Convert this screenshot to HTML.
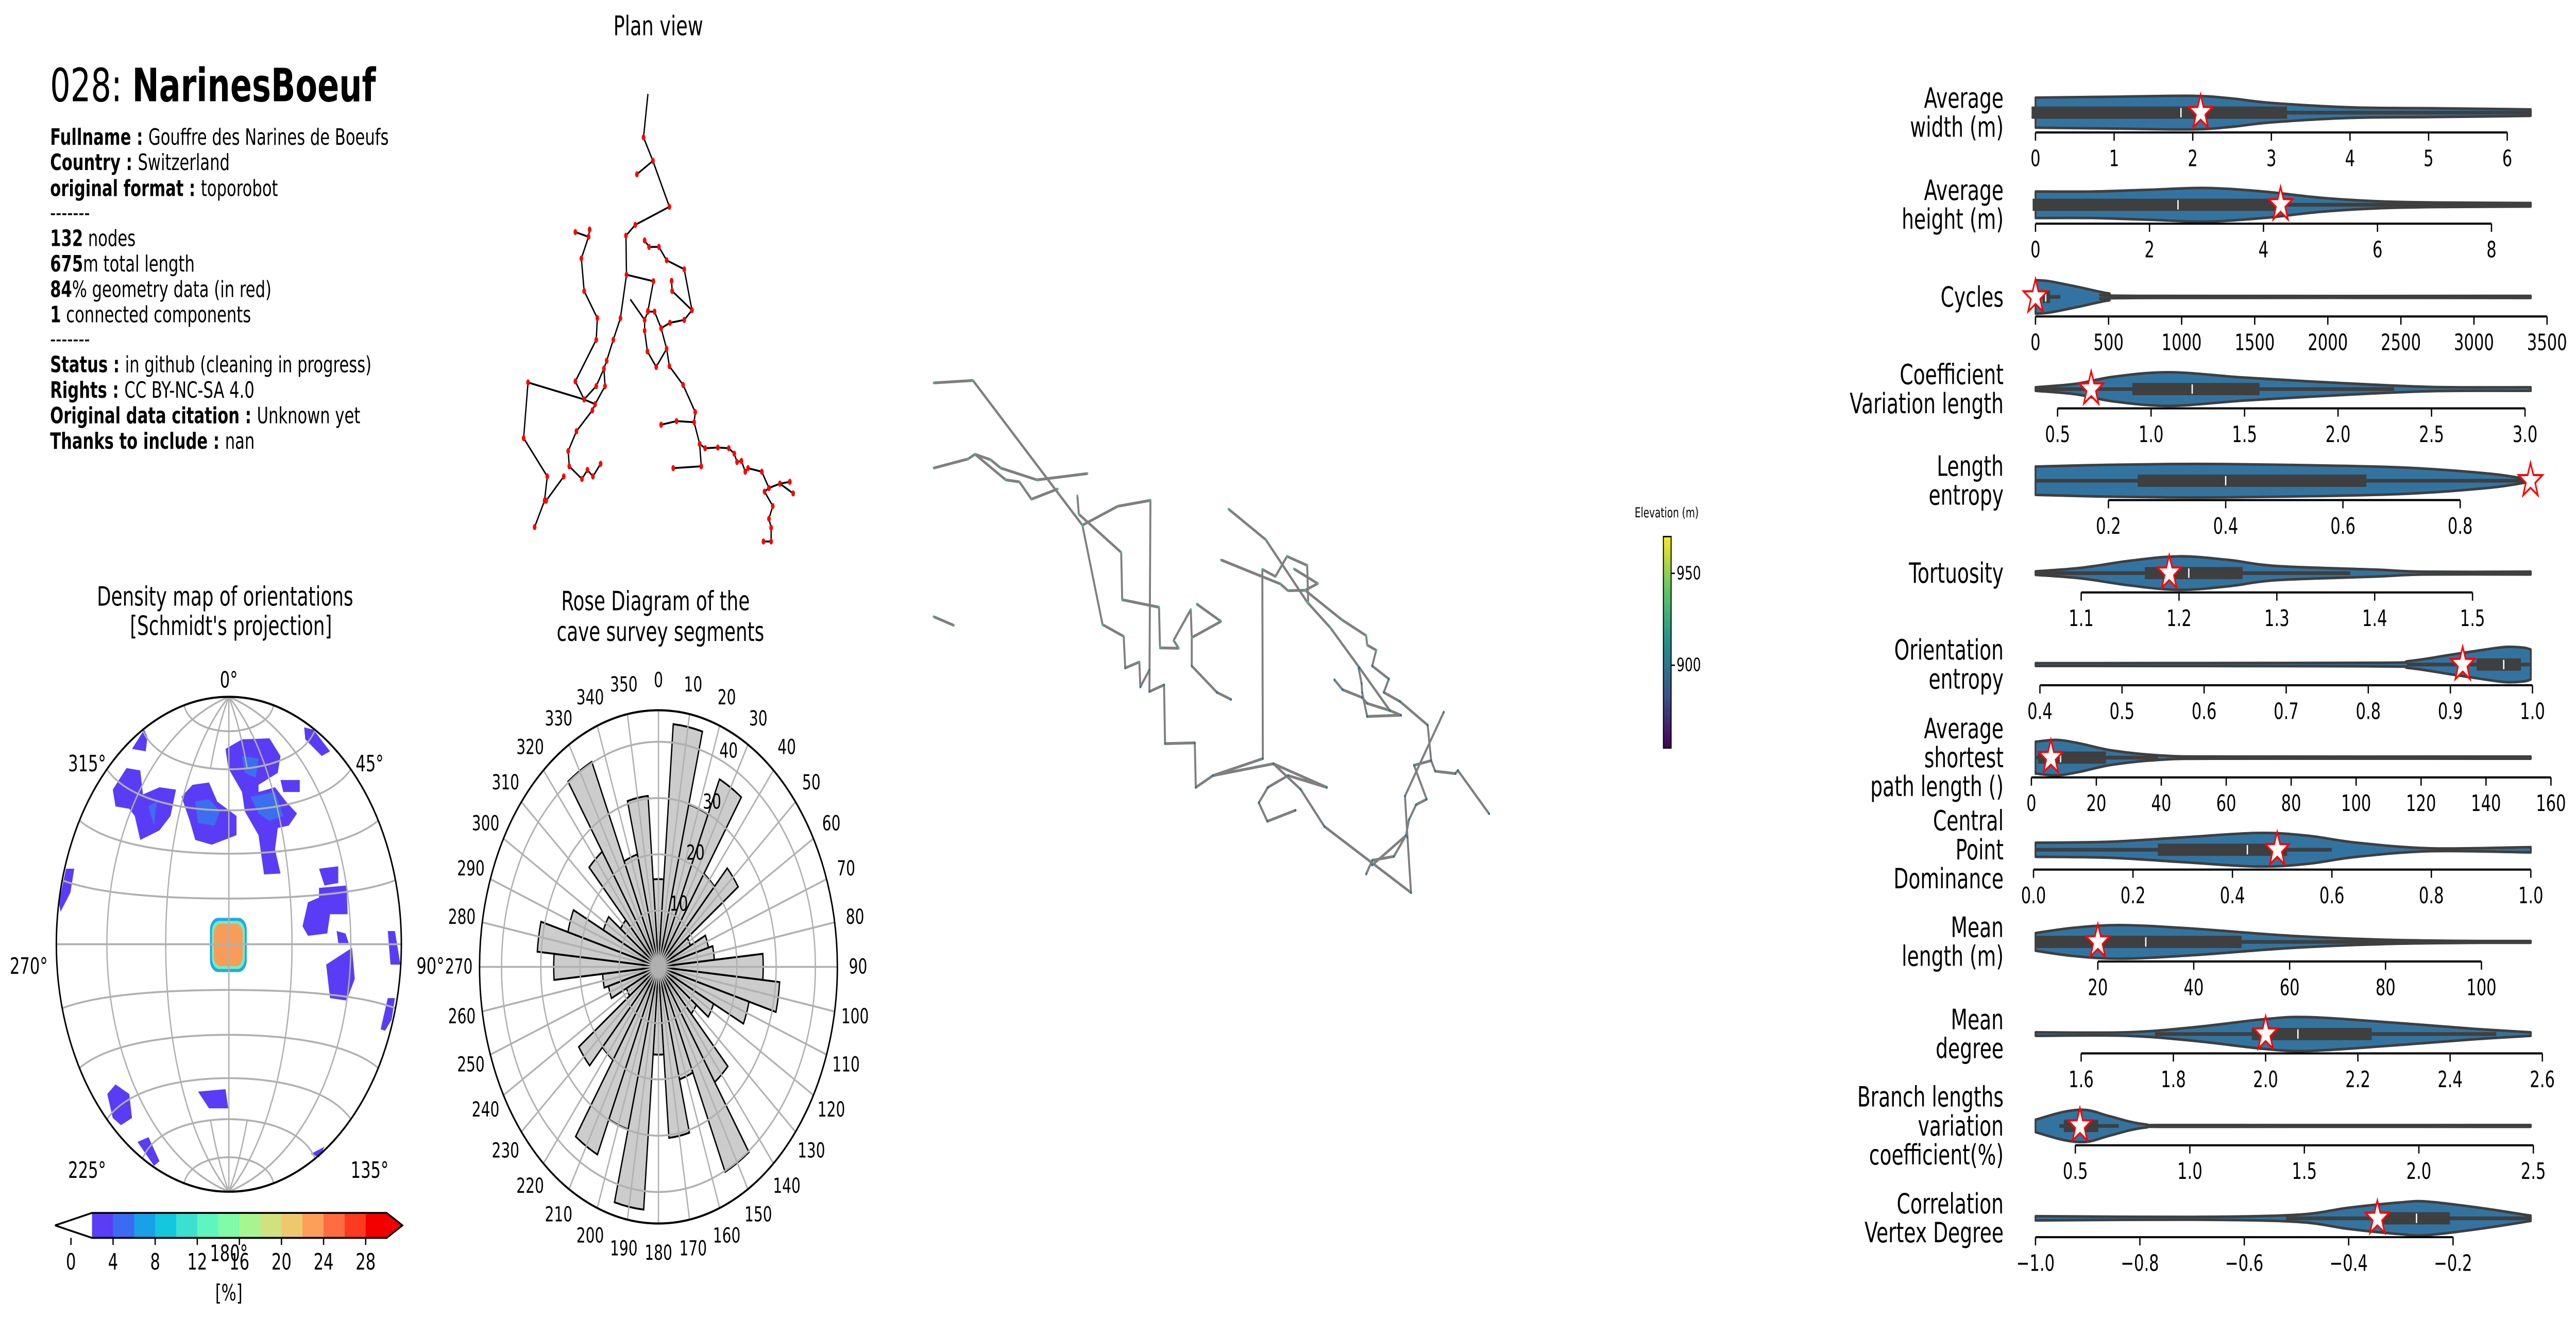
<!DOCTYPE html>
<html><head><meta charset="utf-8"><style>
html,body{margin:0;padding:0;background:#fff;width:100%;height:100%;overflow:hidden}
svg{display:block;position:absolute;left:0;top:0;width:100vw;height:100vh}
text{font-family:"DejaVu Sans","Liberation Sans",sans-serif}
</style></head><body>
<svg id="fig" xmlns="http://www.w3.org/2000/svg" viewBox="0 0 1568 559.3" preserveAspectRatio="none">
<rect x="0" y="0" width="1568" height="559.3" fill="#fff"/>
<g id="info" font-size="9.6">
 <text x="30.5" y="43" font-size="19.5">028: <tspan font-weight="bold">NarinesBoeuf</tspan></text>
 <text x="30.5" y="61.4"><tspan font-weight="bold">Fullname : </tspan>Gouffre des Narines de Boeufs</text>
 <text x="30.5" y="72.2"><tspan font-weight="bold">Country : </tspan>Switzerland</text>
 <text x="30.5" y="83.2"><tspan font-weight="bold">original format : </tspan>toporobot</text>
 <text x="30.5" y="93.5">-------</text>
 <text x="30.5" y="104.4"><tspan font-weight="bold">132</tspan> nodes</text>
 <text x="30.5" y="115.2"><tspan font-weight="bold">675</tspan>m total length</text>
 <text x="30.5" y="126"><tspan font-weight="bold">84</tspan>% geometry data (in red)</text>
 <text x="30.5" y="136.8"><tspan font-weight="bold">1</tspan> connected components</text>
 <text x="30.5" y="147">-------</text>
 <text x="30.5" y="158"><tspan font-weight="bold">Status : </tspan>in github (cleaning in progress)</text>
 <text x="30.5" y="168.8"><tspan font-weight="bold">Rights : </tspan>CC BY-NC-SA 4.0</text>
 <text x="30.5" y="179.6"><tspan font-weight="bold">Original data citation : </tspan>Unknown yet</text>
 <text x="30.5" y="190.4"><tspan font-weight="bold">Thanks to include : </tspan>nan</text>
</g>
<text x="400.7" y="15" font-size="11.5" text-anchor="middle">Plan view</text>
<g id="plan"></g>
<g id="view3d"></g>
<g id="elev"></g>
<g id="density"></g>
<g id="rose"></g>
<g id="violins"></g>
</svg>
<script>
// ---------------- Rose diagram data ----------------
const roseCenters = [0,10,20,30,40,50,60,70,80,90,100,110,120,130,140,150,160,170];
const roseCounts = [15.6,43.3,29.9,36.8,20.2,24.8,9,13.2,14.3,26.7,31,23.9,15.5,11.8,25,40.2,20.7,30.5];
const roseRings = [10,20,30,40];
const roseMax = 45.6;
// ---------------- Violin data ----------------
const metricLabels = [["Average","width (m)"],["Average","height (m)"],["Cycles"],["Coefficient","Variation length"],["Length","entropy"],["Tortuosity"],["Orientation","entropy"],["Average","shortest","path length ()"],["Central","Point","Dominance"],["Mean","length (m)"],["Mean","degree"],["Branch lengths","variation","coefficient(%)"],["Correlation","Vertex Degree"]];
const axisMin = [0,0,0,0.382,0.0756,1.0533,0.3946,1.27,0.004,7.0,1.501,0.326,-1.0];
const axisMax = [6.30,8.69,3389,3.031,0.9205,1.5596,0.998,153.8,1.0,110.3,2.575,2.489,-0.051];
const tickValues = [[0,1,2,3,4,5,6],[0,2,4,6,8],[0,500,1000,1500,2000,2500,3000,3500],[0.5,1.0,1.5,2.0,2.5,3.0],[0.2,0.4,0.6,0.8],[1.1,1.2,1.3,1.4,1.5],[0.4,0.5,0.6,0.7,0.8,0.9,1.0],[0,20,40,60,80,100,120,140,160],[0,0.2,0.4,0.6,0.8,1.0],[20,40,60,80,100],[1.6,1.8,2.0,2.2,2.4,2.6],[0.5,1.0,1.5,2.0,2.5],[-1.0,-0.8,-0.6,-0.4,-0.2]];
const tickLabels = [["0","1","2","3","4","5","6"],["0","2","4","6","8"],["0","500","1000","1500","2000","2500","3000","3500"],["0.5","1.0","1.5","2.0","2.5","3.0"],["0.2","0.4","0.6","0.8"],["1.1","1.2","1.3","1.4","1.5"],["0.4","0.5","0.6","0.7","0.8","0.9","1.0"],["0","20","40","60","80","100","120","140","160"],["0.0","0.2","0.4","0.6","0.8","1.0"],["20","40","60","80","100"],["1.6","1.8","2.0","2.2","2.4","2.6"],["0.5","1.0","1.5","2.0","2.5"],["\u22121.0","\u22120.8","\u22120.6","\u22120.4","\u22120.2"]];
const densityX = [[0,1,2,2.5,3,4,5,6,6.3],[0,1,2,3,4,5,6,7,8.69],[0,100,300,500,700,3389],[0.382,0.6,0.8,1.1,1.5,2.0,2.5,3.031],[0.0756,0.2,0.35,0.5,0.7,0.85,0.9205],[1.0533,1.1,1.15,1.2,1.25,1.3,1.4,1.45,1.5596],[0.3946,0.8,0.85,0.9,0.95,0.97,0.99,0.998],[1.27,8,15,25,40,60,153.8],[0.004,0.15,0.3,0.45,0.55,0.65,0.8,1.0],[7,15,25,40,60,80,100,110.3],[1.501,1.7,1.85,2.0,2.1,2.3,2.45,2.575],[0.326,0.45,0.55,0.65,0.8,1.0,2.489],[-1.0,-0.7,-0.5,-0.4,-0.3,-0.25,-0.15,-0.051]];
const densityW = [[0.85,0.9,0.95,0.8,0.55,0.3,0.25,0.2,0.18],[0.75,0.75,0.85,0.95,0.75,0.4,0.2,0.13,0.1],[0.95,0.88,0.55,0.2,0.06,0.06],[0.1,0.3,0.7,0.95,0.65,0.35,0.12,0.1],[0.8,0.9,0.95,0.9,0.75,0.4,0.05],[0.1,0.3,0.7,0.95,0.75,0.4,0.2,0.08,0.08],[0.08,0.1,0.2,0.55,0.9,1.0,0.95,0.85],[0.9,1.0,0.8,0.4,0.12,0.06,0.06],[0.4,0.45,0.7,0.95,0.8,0.4,0.08,0.15],[0.5,0.8,0.95,0.75,0.35,0.12,0.05,0.05],[0.1,0.1,0.4,0.85,0.95,0.6,0.3,0.1],[0.35,0.8,0.9,0.55,0.1,0.05,0.05],[0.12,0.08,0.2,0.6,0.9,0.95,0.6,0.15]];
const boxQ1 = [-0.05,-0.05,50,0.9,0.25,1.165,0.932,2,0.25,7,1.97,0.45,-0.334];
const boxQ3 = [3.2,4.2,100,1.58,0.64,1.265,0.986,23,0.51,50,2.23,0.6,-0.206];
const boxMed = [1.85,2.5,70,1.22,0.4,1.21,0.965,9,0.43,30,2.07,0.53,-0.27];
const whiskLo = [0,0,0,0.382,0.0756,1.0533,0.847,1.27,0.004,7,1.76,0.43,-0.52];
const whiskHi = [6.3,8.69,170,2.3,0.9205,1.375,0.998,39,0.6,92,2.5,0.69,-0.051];
const starValues = [2.1,4.3,0,0.68,0.92,1.19,0.915,6,0.49,20,2.0,0.52,-0.345];

const NS='http://www.w3.org/2000/svg';
function mk(tag, attrs, parent){const e=document.createElementNS(NS,tag);for(const k in attrs)e.setAttribute(k,attrs[k]);parent.appendChild(e);return e;}

// ---------------- Violins ----------------
(function(){
 const g=document.getElementById('violins');
 const violinY=[47.8,86.9,126,165.1,204,243.2,282,321.5,360.6,399.7,438.8,477.8,517];
 const axisY=[56.2,94.9,134.3,173.3,212.2,251.4,290.8,329.9,369,408,447,486,525];
 const X0=1239, X1=1540.5, HW=7.5;
 for(let i=0;i<metricLabels.length;i++){
  const sx=v=>X0+(v-axisMin[i])/(axisMax[i]-axisMin[i])*(X1-X0);
  const cy=violinY[i];
  const row=mk('g',{},g);
  
  
  const lines=metricLabels[i];
  lines.forEach((t,j)=>{
   const tx=mk('text',{x:1219.6,y:cy+(j-(lines.length-1)/2)*12.3,'font-size':11.8,'text-anchor':'end','dominant-baseline':'central'},row);
   
   
   tx.textContent=t;
  });
  const xs=densityX[i], ws=densityW[i];
  const top=xs.map((v,k)=>[sx(v),cy-ws[k]*HW]);
  const bot=xs.map((v,k)=>[sx(v),cy+ws[k]*HW]).reverse();
  function smooth(pts,start){
   let d=start?('M'+pts[0][0]+','+pts[0][1]):('L'+pts[0][0]+','+pts[0][1]);
   for(let k=0;k<pts.length-1;k++){
    const p0=pts[Math.max(0,k-1)],p1=pts[k],p2=pts[k+1],p3=pts[Math.min(pts.length-1,k+2)];
    const c1=[p1[0]+(p2[0]-p0[0])/6,p1[1]+(p2[1]-p0[1])/6];
    const c2=[p2[0]-(p3[0]-p1[0])/6,p2[1]-(p3[1]-p1[1])/6];
    d+='C'+c1[0]+','+c1[1]+' '+c2[0]+','+c2[1]+' '+p2[0]+','+p2[1];
   }
   return d;
  }
  const vp=mk('path',{d:smooth(top,true)+smooth(bot,false)+'Z',fill:'#3274a1',stroke:'#3f3f3f','stroke-width':1.1,'stroke-linejoin':'round'},row);
  
  
  const wl=mk('line',{x1:sx(whiskLo[i]),x2:sx(whiskHi[i]),y1:cy,y2:cy,stroke:'#3f3f3f','stroke-width':1.6},row);
  
  
  const bx=mk('rect',{x:sx(boxQ1[i]),y:cy-2.6,width:Math.max(0.5,sx(boxQ3[i])-sx(boxQ1[i])),height:5.2,fill:'#3f3f3f'},row);
  
  
  const md=mk('line',{x1:sx(boxMed[i]),x2:sx(boxMed[i]),y1:cy-2,y2:cy+2,stroke:'#fff','stroke-width':0.8},row);
  
  
  const scx=sx(starValues[i]);let sp='';
  for(let k=0;k<10;k++){const r=k%2?3.0:7.6;const a=-Math.PI/2+k*Math.PI/5;sp+=(k?'L':'M')+(scx+r*Math.cos(a)).toFixed(2)+','+(cy+r*Math.sin(a)).toFixed(2);}
  const st=mk('path',{d:sp+'Z',fill:'#fff',stroke:'#ff0000','stroke-width':0.9,'stroke-linejoin':'miter'},row);
  
  
  const tv=tickValues[i], ay=axisY[i];
  const ax=mk('line',{x1:sx(tv[0]),x2:sx(tv[tv.length-1]),y1:ay,y2:ay,stroke:'#000','stroke-width':0.9},row);
  
  
  tv.forEach((v,k)=>{
   const t=mk('line',{x1:sx(v),x2:sx(v),y1:ay,y2:ay+3.5,stroke:'#000','stroke-width':0.8},row);
   
   
   const lb=mk('text',{x:sx(v),y:ay+11,'font-size':9.6,'text-anchor':'middle','dominant-baseline':'central'},row);
   
   
   lb.textContent=tickLabels[i][k];
  });
 }
})();

// ---------------- Rose diagram ----------------
(function(){
 const g=document.getElementById('rose');
 const cx=400.8, cy=410.3, R=108.9;
 const rr=v=>v/roseMax*R;
 const pt=(deg,r)=>[cx+r*Math.sin(deg*Math.PI/180), cy-r*Math.cos(deg*Math.PI/180)];
 const t1=mk('text',{x:399,y:259,'font-size':11.2,'text-anchor':'middle'},g);
 t1.textContent='Rose Diagram of the';
 const t2=mk('text',{x:402,y:272,'font-size':11.2,'text-anchor':'middle'},g);
 t2.textContent='cave survey segments';
 const all=[];roseCenters.forEach((c,k)=>{all.push([c,roseCounts[k]]);all.push([c+180,roseCounts[k]]);});
 all.forEach(([c,v])=>{
  const r=rr(v);const a=pt(c-5,r),b=pt(c+5,r);
  const p=mk('path',{d:`M${cx},${cy}L${a[0]},${a[1]}A${r},${r} 0 0 1 ${b[0]},${b[1]}Z`,fill:'#cccccc',stroke:'#000','stroke-width':0.8,'stroke-linejoin':'miter'},g);
  
  
 });
 roseRings.forEach(v=>{
  const c=mk('circle',{cx:cx,cy:cy,r:rr(v),fill:'none',stroke:'#b0b0b0','stroke-width':0.8},g);
  
 });
 for(let d=0;d<360;d+=10){
  const e=pt(d,R);
  const l=mk('line',{x1:cx,y1:cy,x2:e[0],y2:e[1],stroke:'#b0b0b0','stroke-width':0.8},g);
  
  const lp=pt(d,121.5);
  const tx=mk('text',{x:lp[0],y:lp[1],'font-size':8.8,'text-anchor':'middle','dominant-baseline':'central'},g);
  tx.textContent=String(d);
 }
 const oc=mk('circle',{cx:cx,cy:cy,r:R,fill:'none',stroke:'#000','stroke-width':0.9},g);
 
 roseRings.forEach(v=>{
  const lp=pt(25,rr(v+2.3));
  const tx=mk('text',{x:lp[0],y:lp[1],'font-size':8.8,'text-anchor':'middle','dominant-baseline':'central'},g);
  tx.textContent=String(v);
 });
})();

// ---------------- Density map ----------------
(function(){
 const g=document.getElementById('density');
 const cx=139.3, cy=400.7, R=105;
 const Rp=R/Math.SQRT2, D=Math.PI/180;
 const proj=(lat,lon)=>{const k=Math.sqrt(2/(1+Math.cos(lat*D)*Math.cos(lon*D)));return [cx+Rp*k*Math.cos(lat*D)*Math.sin(lon*D), cy-Rp*k*Math.sin(lat*D)];};
 const t1=mk('text',{x:137,y:257,'font-size':11.2,'text-anchor':'middle'},g);
 t1.textContent='Density map of orientations';
 const t2=mk('text',{x:140.6,y:269.5,'font-size':11.2,'text-anchor':'middle'},g);
 t2.textContent="[Schmidt's projection]";
 const z=(x,y)=>[x*0.3348, 240.5+y*0.2034];
 const blobs=[
  [[410,380],[440,360],[490,358],[510,395],[505,430],[470,455],[470,470],[500,460],[520,490],[540,515],[525,540],[505,545],[500,590],[510,640],[480,642],[470,560],[445,510],[440,470],[415,420]],
  [[330,480],[350,455],[380,450],[395,490],[430,520],[430,560],[385,580],[355,570],[345,530]],
  [[205,465],[230,420],[255,425],[260,475],[290,460],[320,465],[310,520],[290,550],[255,570],[245,520],[235,505],[210,500]],
  [[240,380],[262,340],[268,355],[265,385]],
  [[553,335],[570,340],[600,385],[585,395],[555,360]],
  [[510,445],[545,445],[545,470],[515,470]],
  [[580,630],[615,625],[615,660],[590,665]],
  [[550,750],[560,700],[580,690],[580,670],[630,665],[632,725],[600,725],[595,765],[560,770]],
  [[593,830],[640,795],[645,860],[630,905],[600,900]],
  [[705,760],[718,760],[728,830],[710,830]],
  [[107,700],[120,630],[135,630],[128,680],[110,720]],
  [[692,965],[705,900],[718,900],[712,945],[700,968]],
  [[195,1100],[210,1080],[235,1100],[240,1150],[220,1165],[205,1150]],
  [[360,1095],[410,1090],[415,1130],[380,1130]],
  [[250,1200],[270,1190],[290,1240],[280,1250]],
  [[565,1225],[590,1210],[580,1232]],
  [[612,760],[628,765],[634,785],[615,785]]
 ];
 const inner=[
  [[440,395],[470,400],[465,440],[445,430]],
  [[455,480],[500,470],[515,520],[490,530],[470,515]],
  [[355,490],[380,485],[400,510],[390,540],[360,535]],
  [[270,500],[285,490],[280,540]]
 ];
 const poly=(pts,fill,name)=>{const p=mk('polygon',{points:pts.map(q=>z(q[0],q[1]).join(',')).join(' '),fill:fill},g);};
 blobs.forEach(b=>poly(b,'#5b3cf6','density-contour-low'));
 inner.forEach(b=>poly(b,'#3b6ff0','density-contour-mid'));
 const c1=mk('rect',{x:127.8,y:389.5,width:22.4,height:23,rx:5,fill:'#23a8e8'},g);
 
 const c2=mk('rect',{x:129,y:390.8,width:20,height:20.4,rx:4.5,fill:'#6ef0c0'},g);
 
 const c3=mk('rect',{x:130.2,y:392,width:17.6,height:18,rx:4,fill:'#f99c58'},g);
 
 const gp=(d,name)=>{const p=mk('path',{d:d,fill:'none',stroke:'#b0b0b0','stroke-width':0.8},g);};
 [-75,-60,-45,-30,-15,0,15,30,45,60,75].forEach(lat=>{let d='';for(let lon=-90;lon<=90;lon+=3){const p=proj(lat,lon);d+=(lon===-90?'M':'L')+p[0].toFixed(2)+','+p[1].toFixed(2);}gp(d,'parallel-line');});
 [-60,-30,0,30,60].forEach(lon=>{let d='';for(let lat=-90;lat<=90;lat+=3){const p=proj(lat,lon);d+=(lat===-90?'M':'L')+p[0].toFixed(2)+','+p[1].toFixed(2);}gp(d,'meridian-line');});
 [-15,15].forEach(lon=>{[[60,90],[-90,-60]].forEach(r=>{let d='';for(let lat=r[0];lat<=r[1];lat+=2){const p=proj(lat,lon);d+=(lat===r[0]?'M':'L')+p[0].toFixed(2)+','+p[1].toFixed(2);}gp(d,'meridian-line');});});
 const oc=mk('circle',{cx:cx,cy:cy,r:R,fill:'none',stroke:'#000','stroke-width':0.9},g);
 
 const labs=[['0°',139.3,288.5],['315°',53,324],['45°',225,324],['270°',17.5,410],['90°',262,410],['225°',53,496.5],['135°',225,496.5],['180°',139.3,531.8]];
 labs.forEach(l=>{const t=mk('text',{x:l[1],y:l[2],'font-size':9.6,'text-anchor':'middle','dominant-baseline':'central'},g);t.textContent=l[0];});
 const cbColors=['#5b3df5','#3a6cf3','#18a0e8','#13c8de','#3ce0d0','#5ff5c0','#80fba8','#a8f590','#cfe27f','#eec86d','#fd9f58','#fe6c40','#fb3a1f','#f20000'];
 const bx=v=>43.2+v*(235.4-43.2)/30;
 const y0=514.7,y1=525.3;
 const wt=mk('path',{d:`M33.5,${(y0+y1)/2}L${bx(2)},${y0}L${bx(2)},${y1}Z`,fill:'#fff',stroke:'none'},g);
 
 cbColors.forEach((c,k)=>{const r=mk('rect',{x:bx(2+2*k),y:y0,width:bx(4)-bx(2)+0.2,height:y1-y0,fill:c},g);});
 const rt=mk('path',{d:`M${bx(30)},${y0}L245,${(y0+y1)/2}L${bx(30)},${y1}Z`,fill:'#f20000'},g);
 
 const ol=mk('path',{d:`M33.5,${(y0+y1)/2}L${bx(2)},${y0}L${bx(30)},${y0}L245,${(y0+y1)/2}L${bx(30)},${y1}L${bx(2)},${y1}Z`,fill:'none',stroke:'#000','stroke-width':0.8},g);
 
 [0,4,8,12,16,20,24,28].forEach(v=>{
  const t=mk('line',{x1:bx(v),x2:bx(v),y1:y1,y2:y1+3,stroke:'#000','stroke-width':0.8},g);
  const tx=mk('text',{x:bx(v),y:535.5,'font-size':9.6,'text-anchor':'middle','dominant-baseline':'central'},g);tx.textContent=String(v);
 });
 const ul=mk('text',{x:139.3,y:548.6,'font-size':9.6,'text-anchor':'middle','dominant-baseline':'central'},g);
 ul.textContent='[%]';
})();

// ---------------- Plan view ----------------
(function(){
 const g=document.getElementById('plan');
 const z=(x,y)=>[x*0.3348,y*0.1534];
 const lines=[
  [[1178,260],[1170,380],[1187,445],[1217,572],[1155,622],[1138,652],[1139,760],[1188,778],[1178,860]],
  [[1187,445],[1158,482]],
  [[1139,760],[1128,880],[1115,940],[1103,998],[1098,1020],[1084,1068],[1062,1105],[960,1058],[952,1212],[995,1318],[990,1385],[972,1458]],
  [[1062,1105],[1046,1055],[1084,940],[1086,880],[1062,805],[1057,715],[1070,655],[1072,635]],
  [[1070,655],[1046,642]],
  [[1062,1105],[1082,1118],[1100,1068],[1098,1020]],
  [[1082,1118],[1077,1135],[1048,1193],[1033,1248],[1035,1290],[1058,1325],[1068,1300],[1078,1318],[1092,1283]],
  [[1025,1318],[993,1385]],
  [[1146,828],[1172,885],[1172,915],[1177,972],[1193,1015],[1212,965],[1202,908],[1218,893],[1244,885],[1258,858],[1244,745],[1212,720],[1198,683],[1180,683],[1172,665]],
  [[1258,858],[1222,805],[1221,777]],
  [[1172,885],[1178,862],[1190,862],[1202,908]],
  [[1212,965],[1217,1013],[1242,1065],[1264,1140],[1262,1168],[1230,1165],[1202,1175]],
  [[1262,1168],[1272,1228],[1275,1290],[1224,1295]],
  [[1272,1228],[1282,1240],[1305,1238],[1325,1240],[1335,1255],[1340,1278],[1348,1275],[1355,1305],[1360,1295],[1385,1305],[1398,1350],[1390,1360],[1405,1400],[1398,1435],[1402,1460],[1402,1498],[1388,1498]],
  [[1398,1350],[1418,1338],[1436,1333]],
  [[1418,1338],[1442,1365]]
 ];
 lines.forEach(l=>{
  const p=mk('polyline',{points:l.map(q=>z(q[0],q[1]).join(',')).join(' '),fill:'none',stroke:'#000','stroke-width':0.8},g);
  
 });
 lines.forEach(l=>l.forEach((q,k)=>{if(k===0&&l.length>3)return;const c=z(q[0],q[1]);
  const d=mk('ellipse',{cx:c[0],cy:c[1],rx:1.1,ry:1.3,fill:'#ff0000'},g);
  }));
})();

// ---------------- 3D view ----------------
(function(){
 const g=document.getElementById('view3d');
 const z=(x,y)=>[557.6+x*0.3068,131.2+y*0.1673];
 const lines=[
  [[35,187],[113,181],[330,548]],
  [[35,403],[103,380],[117,368],[148,382],[168,403],[240,433],[340,417]],
  [[117,368],[178,433],[205,438],[229,482],[281,456]],
  [[35,780],[75,802]],
  [[320,473],[323,520],[407,617],[409,737],[482,756],[484,859],[521,860],[511,840],[545,762],[547,833],[605,792],[557,748]],
  [[330,548],[400,500],[465,485],[463,970],[492,953],[494,1102],[553,1100],[555,1213],[589,1183],[709,1153],[763,1218],[810,1312],[982,1480],[975,1340],[970,1235],[1047,1022]],
  [[330,548],[370,800],[412,830],[415,910],[443,895],[445,958],[463,915]],
  [[547,833],[547,905],[597,972],[625,990]],
  [[620,507],[694,585],[776,743],[822,808],[880,910],[940,1018],[962,1030],[895,1033],[885,972],[884,950],[878,910]],
  [[605,636],[723,697],[738,714],[772,713],[797,696],[750,659]],
  [[687,660],[688,1140],[589,1183]],
  [[687,660],[713,678],[736,627],[776,650],[778,743]],
  [[697,1299],[680,1252],[698,1213],[738,1183],[815,1213]],
  [[709,1153],[815,1213]],
  [[697,1299],[753,1271]],
  [[772,713],[845,788],[893,828],[895,852],[913,865],[905,905],[938,938],[928,972],[960,995],[1015,1055],[1022,1145],[988,1157],[1013,1243],[992,1257],[978,1295],[972,1335],[948,1388],[905,1398],[893,1433]],
  [[972,1335],[905,1410]],
  [[1022,1145],[1030,1172],[1070,1178],[1075,1170],[1137,1280]],
  [[830,940],[846,965],[885,985],[895,1000],[940,1018]]
 ];
 lines.forEach(l=>{
  const p=mk('polyline',{points:l.map(q=>z(q[0],q[1]).join(',')).join(' '),fill:'none',stroke:'#7f7f7f','stroke-width':1.2,'stroke-linejoin':'round'},g);
  
 });
 lines.forEach(l=>l.forEach(q=>{const c=z(q[0],q[1]);const col=q[1]<900?'#4cb87a':'#2e6f8e';
  const d=mk('circle',{cx:c[0],cy:c[1],r:0.55,fill:col},g);
  }));
 const e=document.getElementById('elev');
 const defs=mk('defs',{},e);
 const lg=mk('linearGradient',{id:'vir',x1:0,y1:1,x2:0,y2:0},defs);
 [['0','#440154'],['0.25','#3b528b'],['0.5','#21918c'],['0.75','#5ec962'],['1','#fde725']].forEach(s=>mk('stop',{offset:s[0],'stop-color':s[1]},lg));
 const r=mk('rect',{x:1012.5,y:227.7,width:4.7,height:89.7,fill:'url(#vir)',stroke:'#000','stroke-width':0.6},e);
 
 [[243.3,'950'],[282.3,'900']].forEach(t=>{
  const l=mk('line',{x1:1017.2,x2:1019.5,y1:t[0],y2:t[0],stroke:'#000','stroke-width':0.6},e);
  const tx=mk('text',{x:1020.5,y:t[0],'font-size':7.8,'dominant-baseline':'central'},e);tx.textContent=t[1];
 });
 const tt=mk('text',{x:1014.5,y:219.5,'font-size':5.8,'text-anchor':'middle'},e);
 tt.textContent='Elevation (m)';
})();
</script>
</body></html>
